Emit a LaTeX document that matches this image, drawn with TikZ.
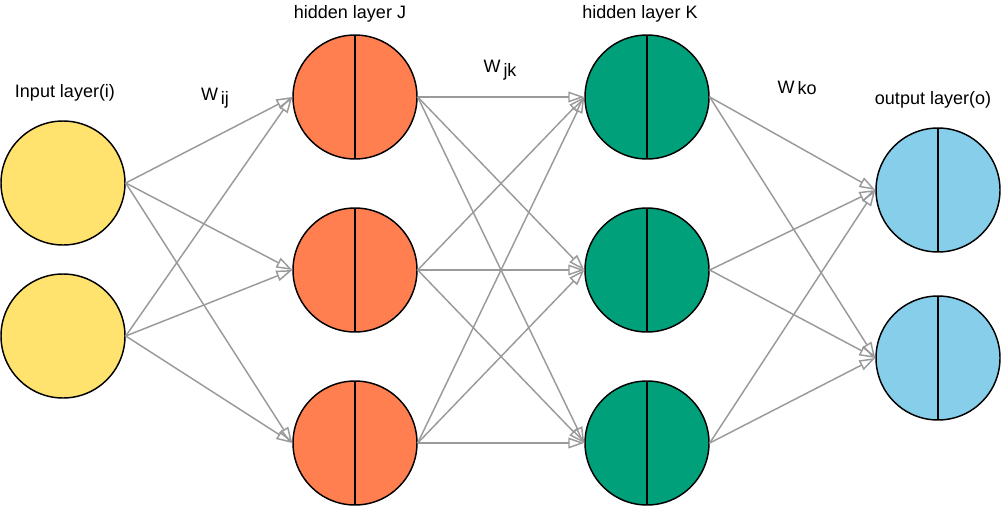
\documentclass[tikz,border=0pt]{standalone}
\usepackage{fontspec}
\setmainfont{Liberation Sans}
\usetikzlibrary{arrows.meta}
\definecolor{cyel}{HTML}{FFE36E}
\definecolor{corg}{HTML}{FF7F50}
\definecolor{cgrn}{HTML}{00A07A}
\definecolor{cblu}{HTML}{87CEEB}
\definecolor{cedge}{HTML}{9A9A9A}
\tikzset{
 neuron/.style={circle,draw=black,line width=1.1pt,minimum size=93pt,inner sep=0pt},
 split/.style={neuron,path picture={\draw[line width=1pt] (path picture bounding box.north) -- (path picture bounding box.south);}},
 conn/.style={draw=cedge,line width=1.1pt,-{Triangle[open,length=12pt,width=8pt]}},
 lbl/.style={font=\fontsize{13.5}{16}\selectfont}
}
\begin{document}
\begin{tikzpicture}[x=0.75pt,y=-0.75pt]
\useasboundingbox (0,0) rectangle (1002,510);
\node[neuron,fill=cyel] (i1) at (63,183) {};
\node[neuron,fill=cyel] (i2) at (63,336) {};
\foreach \n/\y in {1/97,2/270,3/443}{
 \node[split,fill=corg] (j\n) at (355,\y) {};
 \node[split,fill=cgrn] (k\n) at (647,\y) {};
}
\node[split,fill=cblu] (o1) at (938,190) {};
\node[split,fill=cblu] (o2) at (938,358) {};
\foreach \a in {i1,i2}{\foreach \b in {j1,j2,j3}{\draw[conn] (\a.east) -- (\b.west);}}
\foreach \a in {j1,j2,j3}{\foreach \b in {k1,k2,k3}{\draw[conn] (\a.east) -- (\b.west);}}
\foreach \a in {k1,k2,k3}{\foreach \b in {o1,o2}{\draw[conn] (\a.east) -- (\b.west);}}
\node[lbl] (ti) at (65,93) {Input layer(i)};
\node[lbl] (tj) at (350,14) {hidden layer J};
\node[lbl] (tk) at (640,14) {hidden layer K};
\node[lbl] (to) at (933,100) {output layer(o)};
\node[lbl] (wij) at (215,98) {W\,\raisebox{-3pt}{ij}};
\node[lbl] (wjk) at (500,70) {W\,\raisebox{-3pt}{jk}};
\node[lbl] (wko) at (797,88) {W\,\raisebox{-1pt}{ko}};
\end{tikzpicture}
\end{document}
